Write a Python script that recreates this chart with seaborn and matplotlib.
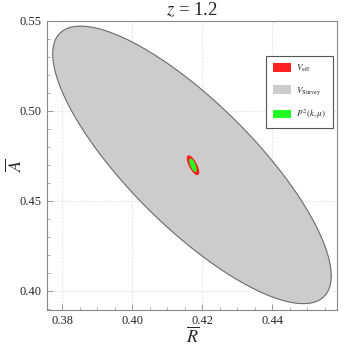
"""
Fisher forecast ellipses for (R, A) at z = 1.2
"""
import numpy as np
import pandas as pd
import matplotlib
matplotlib.use("Agg")
import matplotlib.pyplot as plt
from matplotlib.patches import Patch
import seaborn as sns

# Data: ellipse centre, 1-sigma half extents and correlation
labels = [r"$V_{\rm eff}$", r"$V_{\rm Survey}$", r"$P^2(k,\mu)$"]
colors = ["#ff2020", "#cccccc", "#22ff22"]
centre_R = [0.4174, 0.4171, 0.4174]
centre_A = [0.4698, 0.4700, 0.4698]
sigma_R = [0.00160, 0.0398, 0.00085]
sigma_A = [0.0051, 0.0771, 0.0033]
rho = [-0.75, -0.80, -0.75]
draw_order = [1, 0, 2]

x_ticks = [0.38, 0.40, 0.42, 0.44]
y_ticks = [0.40, 0.45, 0.50, 0.55]

sns.set_theme(style="ticks")
plt.rcParams["font.family"] = ["Liberation Serif", "DejaVu Serif"]
plt.rcParams["mathtext.fontset"] = "stix"


def ellipse_points(cx, cy, sx, sy, r, n=300):
    cov = np.array([[sx**2, r * sx * sy], [r * sx * sy, sy**2]])
    L = np.linalg.cholesky(cov)
    t = np.linspace(0, 2 * np.pi, n)
    pts = L @ np.vstack([np.cos(t), np.sin(t)])
    return pd.DataFrame({"R": cx + pts[0], "A": cy + pts[1]})


fig = plt.figure(figsize=(3.49, 3.49), dpi=100)
ax = fig.add_axes([0.135, 0.112, 0.831, 0.828])

for k, i in enumerate(draw_order):
    df = ellipse_points(centre_R[i], centre_A[i], sigma_R[i], sigma_A[i], rho[i])
    ax.fill(df["R"], df["A"], color=colors[i], zorder=2 + k)
    if i == 1:
        ax.plot(df["R"], df["A"], color="#666666", lw=0.7, zorder=2.5)

ax.set_xlim(0.3757, 0.4586)
ax.set_ylim(0.3894, 0.55)
ax.set_xticks(x_ticks)
ax.set_yticks(y_ticks)
ax.set_xticklabels([f"{v:.2f}" for v in x_ticks])
ax.set_yticklabels([f"{v:.2f}" for v in y_ticks])
ax.xaxis.set_minor_locator(matplotlib.ticker.MultipleLocator(0.005))
ax.yaxis.set_minor_locator(matplotlib.ticker.MultipleLocator(0.01))
ax.tick_params(which="both", direction="in", color="#888888", labelsize=9, pad=4)
ax.tick_params(which="major", length=4, width=0.6)
ax.tick_params(which="minor", length=2, width=0.5)
ax.grid(True, which="major", color="#cccccc", ls=(0, (1, 2)), lw=0.6, zorder=1)
ax.set_axisbelow(True)
for s in ax.spines.values():
    s.set_color("#888888")
    s.set_linewidth(0.8)

ax.set_xlabel(r"$\overline{R}$", fontsize=13)
ax.set_ylabel(r"$\overline{A}$", fontsize=13)
ax.xaxis.set_label_coords(0.5, -0.058)
ax.yaxis.set_label_coords(-0.075, 0.5)
ax.set_title(r"$z$ = 1.2", fontsize=13.5, pad=4)

handles = [Patch(facecolor=c, edgecolor="none") for c in colors]
leg = ax.legend(handles, labels, loc="upper right", bbox_to_anchor=(0.985, 0.88),
                fontsize=6.5, frameon=True, fancybox=False, handlelength=2.0,
                handleheight=1.1, labelspacing=1.2, borderpad=0.8, handletextpad=0.5,
                borderaxespad=0)
leg.get_frame().set_edgecolor("#555555")
leg.get_frame().set_linewidth(0.8)
leg.get_frame().set_alpha(1)

fig.savefig("out.png", dpi=100)
